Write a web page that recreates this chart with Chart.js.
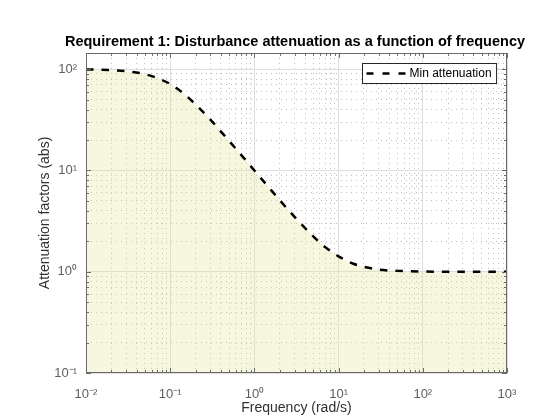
<!DOCTYPE html>
<html>
<head>
<meta charset="utf-8">
<script src="https://cdn.jsdelivr.net/npm/chart.js@4.4.1/dist/chart.umd.min.js"></script>
<style>
  html, body { margin: 0; padding: 0; background: #ffffff; }
  #wrap { width: 560px; height: 420px; }
</style>
</head>
<body>
<div id="wrap"><canvas id="c" width="560" height="420"></canvas></div>
<script>
// ---- data ----
const frequencies = [0.01, 0.015, 0.02, 0.03, 0.05, 0.07, 0.1, 0.15, 0.2, 0.3, 0.5, 0.7,
                     1, 1.5, 2, 3, 5, 7, 10, 15, 20, 30, 50, 70, 100, 200, 500, 1000];
const minAttenuation = [99.5, 98.9, 98.1, 95.8, 89.4, 81.9, 71.5, 56.0, 45.0, 31.8, 19.6, 14.2,
                        10.0, 6.73, 5.09, 3.48, 2.24, 1.74, 1.42, 1.20, 1.12, 1.05, 1.02, 1.01, 1.005, 1.001, 1.0, 1.0];
const xDecades = [0.01, 0.1, 1, 10, 100, 1000];
const yDecades = [0.1, 1, 10, 100];
const xTickLabels = ['10⁻²', '10⁻¹', '10⁰', '10¹', '10²', '10³'];
const yTickLabels = ['10⁻¹', '10⁰', '10¹', '10²'];
const minorSteps = [2, 3, 4, 5, 6, 7, 8, 9];
const seriesName = 'Min attenuation';
const titleText = 'Requirement 1: Disturbance attenuation as a function of frequency';
const xTitle = 'Frequency (rad/s)';
const yTitle = 'Attenuation factors (abs)';
const xRange = [0.01, 1000];
const yRange = [0.1, 145];

function buildTicks(decades, max) {
  const out = [];
  decades.forEach(d => {
    out.push({ value: d, major: true });
    minorSteps.forEach(m => { const v = d * m; if (v < max) out.push({ value: v, major: false }); });
  });
  return out.filter(t => t.value <= max);
}
function isDecade(v) { const l = Math.log10(v); return Math.abs(l - Math.round(l)) < 1e-9; }
function decadeLabel(v, decades, labels) {
  for (let i = 0; i < decades.length; i++) if (Math.abs(v / decades[i] - 1) < 1e-9) return labels[i];
  return '';
}

Chart.defaults.font.family = "'Liberation Sans', Arial, Helvetica, sans-serif";

const AXIS_COLOR = '#6a6a6a';
const TICK_TEXT = '#5e5e5e';

const boxPlugin = {
  id: 'matlabBox',
  afterDatasetsDraw(chart) {
    const { ctx, chartArea: a, scales } = chart;
    ctx.save();
    ctx.strokeStyle = AXIS_COLOR;
    ctx.lineWidth = 1;
    ctx.setLineDash([]);
    ctx.beginPath();
    scales.x.ticks.forEach(t => {
      const px = Math.round(scales.x.getPixelForValue(t.value)) + 0.5;
      const len = t.major ? 5 : 3;
      ctx.moveTo(px, a.bottom); ctx.lineTo(px, a.bottom - len);
      ctx.moveTo(px, a.top); ctx.lineTo(px, a.top + len);
    });
    scales.y.ticks.forEach(t => {
      const py = Math.round(scales.y.getPixelForValue(t.value)) + 0.5;
      const len = t.major ? 5 : 3;
      ctx.moveTo(a.left, py); ctx.lineTo(a.left + len, py);
      ctx.moveTo(a.right, py); ctx.lineTo(a.right - len, py);
    });
    ctx.stroke();
    ctx.strokeRect(Math.round(a.left) + 0.5, Math.round(a.top) + 0.5,
                   Math.round(a.right - a.left) - 1, Math.round(a.bottom - a.top) - 1);

    // legend inside the axes (top-right)
    ctx.font = "12px 'Liberation Sans', Arial, sans-serif";
    const tw = ctx.measureText(seriesName).width;
    const sample = 39;
    const w = 4 + sample + 4 + tw + 5;
    const h = 20;
    const x0 = Math.round(a.right - 11 - w) + 0.5;
    const y0 = Math.round(a.top + 10) + 0.5;
    ctx.fillStyle = '#ffffff';
    ctx.fillRect(x0, y0, w, h);
    ctx.strokeStyle = '#262626';
    ctx.lineWidth = 1;
    ctx.strokeRect(x0, y0, w, h);
    ctx.beginPath();
    ctx.setLineDash([7, 9]);
    ctx.lineWidth = 2.5;
    ctx.strokeStyle = '#000000';
    ctx.moveTo(x0 + 4, y0 + h / 2); ctx.lineTo(x0 + 4 + sample, y0 + h / 2);
    ctx.stroke();
    ctx.setLineDash([]);
    ctx.fillStyle = '#000000';
    ctx.textBaseline = 'middle';
    ctx.textAlign = 'left';
    ctx.fillText(seriesName, x0 + 4 + sample + 4, y0 + h / 2 + 0.5);
    ctx.restore();
  }
};

new Chart(document.getElementById('c'), {
  type: 'line',
  data: {
    datasets: [{
      label: seriesName,
      data: frequencies.map((f, i) => ({ x: f, y: minAttenuation[i] })),
      borderColor: '#000000',
      borderWidth: 2.5,
      borderDash: [7.5, 8],
      backgroundColor: 'rgba(230,230,150,0.30)',
      fill: 'start',
      pointRadius: 0,
      cubicInterpolationMode: 'monotone'
    }]
  },
  plugins: [boxPlugin],
  options: {
    responsive: false,
    animation: false,
    layout: { padding: { left: 30, right: 0, top: 0, bottom: 0 } },
    plugins: {
      legend: { display: false },
      tooltip: { enabled: false },
      title: {
        display: true,
        text: titleText,
        color: '#000000',
        font: { size: 14.5, weight: 'bold' },
        padding: { top: 33, bottom: 2.5 }
      }
    },
    scales: {
      x: {
        type: 'logarithmic',
        min: xRange[0], max: xRange[1],
        afterBuildTicks: s => { s.ticks = buildTicks(xDecades, xRange[1]); },
        afterFit: s => { s.height = 47; },
        ticks: {
          autoSkip: false, maxRotation: 0, padding: 14,
          color: TICK_TEXT, font: { size: 13 },
          callback: v => decadeLabel(v, xDecades, xTickLabels)
        },
        grid: {
          drawTicks: false,
          color: c => (c.tick && isDecade(c.tick.value)) ? '#dedede' : '#bdbdbd',
          lineWidth: 1
        },
        border: { display: false, dash: c => (c.tick && isDecade(c.tick.value)) ? [] : [1, 4] },
        title: { display: true, text: xTitle, color: '#303030', font: { size: 14 }, padding: { top: 0, bottom: 3.5 } }
      },
      y: {
        type: 'logarithmic',
        min: yRange[0], max: yRange[1],
        afterBuildTicks: s => { s.ticks = buildTicks(yDecades, yRange[1]); },
        afterFit: s => { s.width = 56; },
        ticks: {
          autoSkip: false, padding: 9,
          color: TICK_TEXT, font: { size: 13 },
          callback: v => decadeLabel(v, yDecades, yTickLabels)
        },
        grid: {
          drawTicks: false,
          color: c => (c.tick && isDecade(c.tick.value)) ? '#dedede' : '#bdbdbd',
          lineWidth: 1
        },
        border: { display: false, dash: c => (c.tick && isDecade(c.tick.value)) ? [] : [1, 4] },
        title: { display: true, text: yTitle, color: '#303030', font: { size: 14 }, padding: { top: 7, bottom: 0 } }
      },
      yRight: {
        type: 'linear',
        position: 'right',
        display: true,
        afterFit: s => { s.width = 53; },
        ticks: { display: false },
        grid: { display: false, drawOnChartArea: false, drawTicks: false },
        border: { display: false },
        title: { display: false }
      }
    }
  }
});
</script>
</body>
</html>
